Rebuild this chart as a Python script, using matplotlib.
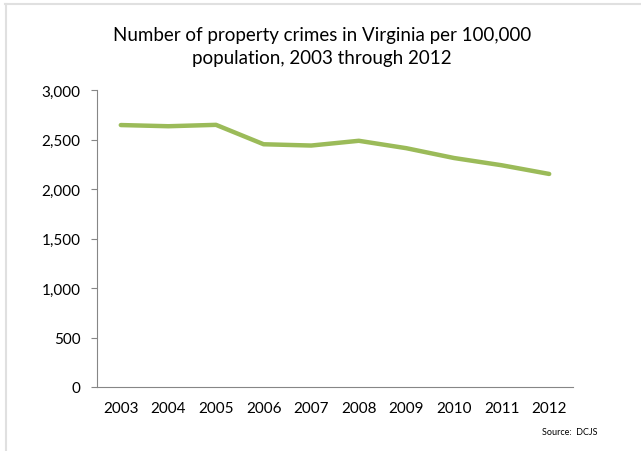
import matplotlib
matplotlib.use("Agg")
import matplotlib.pyplot as plt
from matplotlib.lines import Line2D

years = ["2003", "2004", "2005", "2006", "2007", "2008", "2009", "2010", "2011", "2012"]
rates = [2646, 2634, 2648, 2452, 2439, 2487, 2412, 2313, 2240, 2152]
yticks = [0, 500, 1000, 1500, 2000, 2500, 3000]

plt.rcParams['font.family'] = ['Lato', 'DejaVu Sans']

fig = plt.figure(figsize=(6.41, 4.52), dpi=100)
ax = fig.add_axes([97/641, 64/452, 476/641, 297/452])

x = list(range(len(years)))
ax.plot(x, rates, color='#9BBB59', linewidth=3.2, solid_capstyle='round', solid_joinstyle='round')

ax.set_xlim(-0.5, len(years) - 0.5)
ax.set_ylim(0, 3000)
ax.set_xticks(x)
ax.set_xticklabels(years)
ax.set_yticks(yticks)
ax.set_yticklabels([f"{v:,}" for v in yticks])

for s in ['top', 'right']:
    ax.spines[s].set_visible(False)
ax.spines['left'].set_color('#868686')
ax.spines['bottom'].set_color('#868686')
ax.tick_params(axis='y', length=4, color='#868686', labelsize=11, pad=8, labelcolor='black')
ax.tick_params(axis='x', length=0, labelsize=11, pad=10, labelcolor='black')

fig.text(322/641, 1 - 47/452, "Number of property crimes in Virginia per 100,000\npopulation, 2003 through 2012",
         ha='center', va='center', fontsize=13.5, linespacing=1.45)
fig.text(598/641, 1 - 433/452, "Source:  DCJS", ha='right', va='center', fontsize=6.5)

# light frame lines (top and left)
fig.add_artist(Line2D([5/641, 1], [1 - 4.5/452, 1 - 4.5/452], transform=fig.transFigure, color='#e0e0e0', linewidth=1.5))
fig.add_artist(Line2D([5.5/641, 5.5/641], [0, 1 - 4.5/452], transform=fig.transFigure, color='#e0e0e0', linewidth=1.5))

fig.savefig("out.png", dpi=100)
